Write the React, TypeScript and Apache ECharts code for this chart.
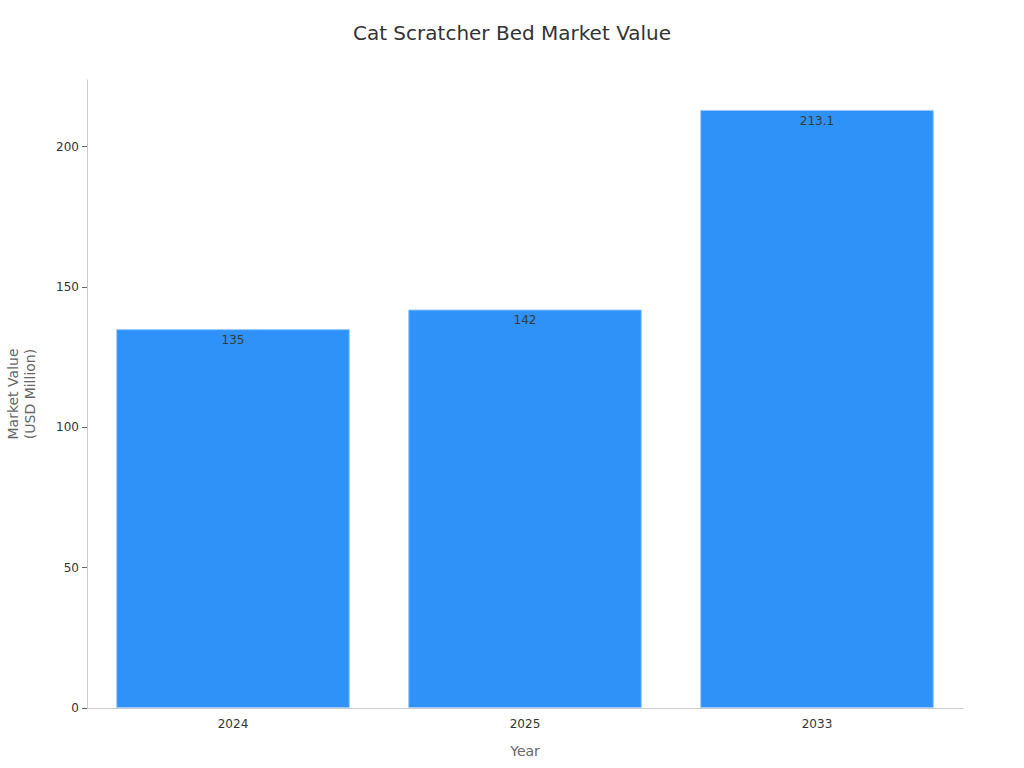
import React, { useEffect, useRef } from 'react'
import * as echarts from 'echarts'

// Chart data
const years = ['2024', '2025', '2033']
const marketValues = [135, 142, 213.1]

const FONT = '"DejaVu Sans", sans-serif'

const App: React.FC = () => {
  const chartRef = useRef<HTMLDivElement>(null)

  useEffect(() => {
    if (!chartRef.current) return
    document.body.style.margin = '0'
    const chart = echarts.init(chartRef.current, undefined, { renderer: 'svg' })

    const option: echarts.EChartsOption = {
      animation: false,
      textStyle: { fontFamily: FONT },
      title: {
        text: 'Cat Scratcher Bed Market Value',
        left: 'center',
        top: 18,
        textStyle: { fontSize: 20, fontWeight: 'normal', color: '#333', fontFamily: FONT },
      },
      grid: { left: 87, right: 61, top: 80, bottom: 60, outerBoundsMode: 'none' } as any,
      xAxis: {
        type: 'category',
        data: years,
        name: 'Year',
        nameLocation: 'middle',
        nameGap: 36,
        nameTextStyle: { fontSize: 14, color: '#666' },
        axisLine: { lineStyle: { color: '#ccc' } },
        axisTick: { alignWithLabel: true, lineStyle: { color: '#666' } },
        axisLabel: { fontSize: 12, color: '#333', margin: 10 },
      },
      yAxis: {
        type: 'value',
        min: 0,
        max: (v: { max: number }) => v.max * 1.05,
        interval: 50,
        name: 'Market Value\n(USD Million)',
        nameLocation: 'middle',
        nameGap: 49,
        nameTextStyle: { fontSize: 14, color: '#666', lineHeight: 17 },
        axisLine: { show: true, lineStyle: { color: '#ccc' } },
        axisTick: { show: true, lineStyle: { color: '#666' } },
        axisLabel: {
          fontSize: 12,
          color: '#333',
          showMaxLabel: false,
        },
        splitLine: { show: false },
      },
      series: [
        {
          type: 'bar',
          data: marketValues,
          barCategoryGap: '20%',
          itemStyle: {
            color: '#2f92f9',
            borderColor: '#9ccbfb',
            borderWidth: 1,
          },
          label: {
            show: true,
            position: 'insideTop',
            color: '#3a3a3a',
            fontSize: 12,
          },
        },
      ],
    }

    chart.setOption(option)
    return () => {
      chart.dispose()
    }
  }, [])

  return <div ref={chartRef} style={{ width: 1024, height: 768 }} />
}

export default App
